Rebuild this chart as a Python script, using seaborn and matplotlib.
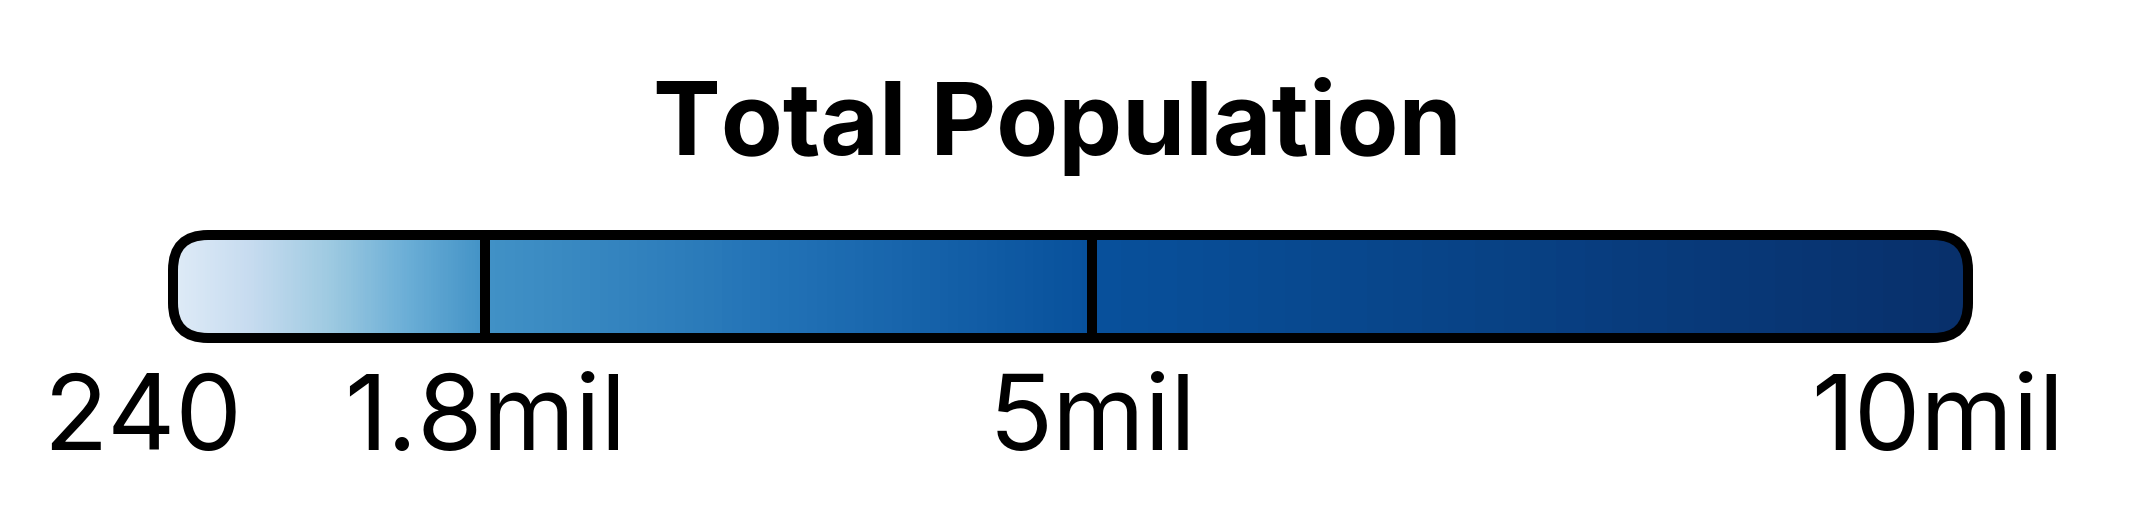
import numpy as np
import matplotlib
matplotlib.use("Agg")
import matplotlib.pyplot as plt
import matplotlib.transforms as mtransforms
from matplotlib.patches import FancyBboxPatch
import seaborn as sns

# legend data: class breaks of total population and their labels
breaks = [240, 1_800_000, 5_000_000, 10_000_000]
break_labels = ["240", "1.8mil", "5mil", "10mil"]
title = "Total Population"

sns.set_style("white")
plt.rcParams["font.family"] = ["Inter", "DejaVu Sans"]

W, H = 2132, 512
fig = plt.figure(figsize=(W / 100, H / 100), dpi=100)

# bar placed by its outline centre line (pixels)
x0, x1, y0, y1 = 173, 1968, 512 - 338, 512 - 235
ax = fig.add_axes([x0 / W, y0 / H, (x1 - x0) / W, (y1 - y0) / H])

# where each break sits along the bar
fracs = [0.0, 0.1738, 0.512, 1.0]
fwd = lambda v: np.interp(v, breaks, fracs)
inv = lambda p: np.interp(p, fracs, breaks)
ax.set_xscale("function", functions=(fwd, inv))
ax.set_xlim(breaks[0], breaks[-1])
ax.set_ylim(0, 1)
ax.axis("off")

# gradient, each class takes its own slice of the Blues ramp
cmap = sns.color_palette("Blues", as_cmap=True)
stops = [0.125, 0.625, 0.875, 1.0]
xs, cs = [], []
for i in range(len(breaks) - 1):
    e = np.linspace(breaks[i], breaks[i + 1], 301)
    xs.append(e if i == 0 else e[1:])
    cs.append(np.linspace(stops[i], stops[i + 1], 300))
xs = np.concatenate(xs)
cs = np.concatenate(cs)
mesh = ax.pcolormesh(xs, [0, 1], cs[None, :], cmap=cmap, vmin=0, vmax=1,
                     shading="flat", clip_on=True)

radius = 35
box = FancyBboxPatch((0, 0), 1, 1, transform=ax.transAxes,
                     boxstyle=f"round,pad=0,rounding_size={radius / (x1 - x0)}",
                     mutation_aspect=(x1 - x0) / (y1 - y0),
                     facecolor="none", edgecolor="black", lw=7.2, clip_on=False,
                     zorder=5)
ax.add_patch(box)
mesh.set_clip_path(box)

for b in breaks[1:-1]:
    ax.axvline(b, color="black", lw=7.2, zorder=4, solid_capstyle="butt")

# break labels under the bar
trans = mtransforms.blended_transform_factory(ax.transData, fig.transFigure)
shift = mtransforms.ScaledTranslation(-0.3, 0, fig.dpi_scale_trans)
for i, (b, lab) in enumerate(zip(breaks, break_labels)):
    t = trans + shift if i in (0, len(breaks) - 1) else trans
    ax.text(b, 62 / H, lab, transform=t, ha="center", va="baseline",
            fontsize=76, color="black", clip_on=False)

fig.text(1057 / W, (H - 155) / H, title, ha="center", va="baseline",
         fontsize=73, fontweight="bold", color="black")

fig.savefig("out.png", dpi=100, facecolor="white")
